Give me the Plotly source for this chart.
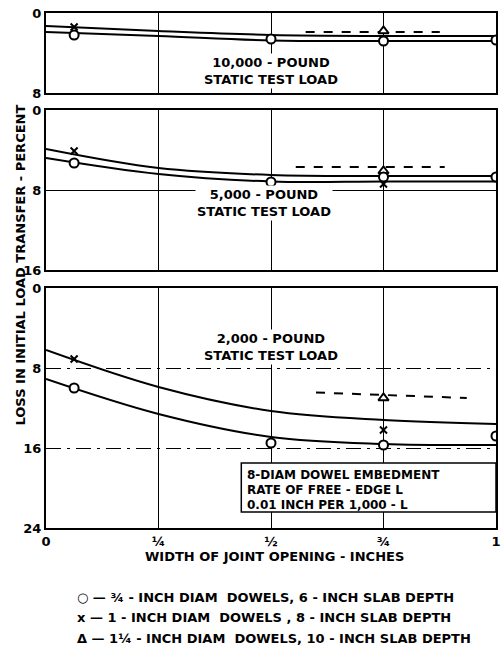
import plotly.graph_objects as go

# ---------------- data ----------------
curve_x = [0, 0.25, 0.5, 0.75, 1.0]

# 10,000-pound panel
p1_upper = [1.3, 1.8, 2.2, 2.3, 2.3]
p1_lower = [1.9, 2.3, 2.75, 2.8, 2.8]
p1_circ_x = [1/16, 1/2, 3/4, 1.0]
p1_circ_y = [2.2, 2.6, 2.8, 2.7]
p1_x_x = [1/16]
p1_x_y = [1.4]
p1_tri_x = [3/4]
p1_tri_y = [1.8]
p1_dash_x = [0.577, 0.875]
p1_dash_y = [1.9, 1.9]

# 5,000-pound panel
p2_upper = [3.9, 5.8, 6.5, 6.6, 6.6]
p2_lower = [4.8, 6.4, 7.15, 7.15, 7.15]
p2_circ_x = [1/16, 1/2, 3/4, 1.0]
p2_circ_y = [5.3, 7.2, 6.7, 6.7]
p2_x_x = [1/16, 3/4]
p2_x_y = [4.1, 7.4]
p2_tri_x = [3/4]
p2_tri_y = [6.1]
p2_dash_x = [0.555, 0.886]
p2_dash_y = [5.7, 5.7]

# 2,000-pound panel
p3_upper = [6.2, 9.9, 12.3, 13.2, 13.6]
p3_lower = [9.1, 12.6, 14.9, 15.6, 15.7]
p3_circ_x = [1/16, 1/2, 3/4, 1.0]
p3_circ_y = [10.0, 15.5, 15.7, 14.8]
p3_x_x = [1/16, 3/4]
p3_x_y = [7.1, 14.2]
p3_tri_x = [3/4]
p3_tri_y = [11.0]
p3_dash_x = [0.6, 0.935]
p3_dash_y = [10.45, 11.0]

x_tickvals = [0, 0.25, 0.5, 0.75, 1.0]
x_ticktext = ["0", "¼", "½", "¾", "1"]

panel_titles = ["10,000 - POUND<br>STATIC TEST LOAD",
                "5,000 - POUND<br>STATIC TEST LOAD",
                "2,000 - POUND<br>STATIC TEST LOAD"]
legend_lines = ["○ — ¾ - INCH DIAM  DOWELS, 6 - INCH SLAB DEPTH",
                "x — 1 - INCH DIAM  DOWELS , 8 - INCH SLAB DEPTH",
                "Δ — 1¼ - INCH DIAM  DOWELS, 10 - INCH SLAB DEPTH"]
box_lines = ["8-DIAM DOWEL EMBEDMENT",
             "RATE OF FREE - EDGE L",
             "0.01 INCH PER 1,000 - L"]

# ---------------- figure ----------------
FONT = "DejaVu Sans"
fig = go.Figure()

panels = [
    (p1_upper, p1_lower, p1_circ_x, p1_circ_y, p1_x_x, p1_x_y, p1_tri_x, p1_tri_y, p1_dash_x, p1_dash_y),
    (p2_upper, p2_lower, p2_circ_x, p2_circ_y, p2_x_x, p2_x_y, p2_tri_x, p2_tri_y, p2_dash_x, p2_dash_y),
    (p3_upper, p3_lower, p3_circ_x, p3_circ_y, p3_x_x, p3_x_y, p3_tri_x, p3_tri_y, p3_dash_x, p3_dash_y),
]

for i, (up, lo, cx, cy, xx, xy, tx, ty, dx, dy) in enumerate(panels):
    xa = "x" if i == 0 else f"x{i+1}"
    ya = "y" if i == 0 else f"y{i+1}"
    for ys in (up, lo):
        fig.add_trace(go.Scatter(x=curve_x, y=ys, mode="lines", xaxis=xa, yaxis=ya,
                                 line=dict(color="black", width=2, shape="spline", smoothing=1.0),
                                 showlegend=False, hoverinfo="skip"))
    fig.add_trace(go.Scatter(x=dx, y=dy, mode="lines", xaxis=xa, yaxis=ya,
                             line=dict(color="black", width=2, dash="dash"),
                             showlegend=False))
    fig.add_trace(go.Scatter(x=xx, y=xy, mode="markers", xaxis=xa, yaxis=ya,
                             marker=dict(symbol="x-thin", size=7, line=dict(color="black", width=2)),
                             showlegend=False))
    fig.add_trace(go.Scatter(x=tx, y=ty, mode="markers", xaxis=xa, yaxis=ya,
                             marker=dict(symbol="triangle-up", size=9, color="white",
                                         line=dict(color="black", width=2)),
                             showlegend=False))
    fig.add_trace(go.Scatter(x=cx, y=cy, mode="markers", xaxis=xa, yaxis=ya,
                             marker=dict(symbol="circle", size=9, color="white",
                                         line=dict(color="black", width=2)),
                             showlegend=False))

axis_common = dict(showline=True, mirror=True, linecolor="black", linewidth=2,
                   zeroline=False, ticks="", gridcolor="black", gridwidth=1,
                   automargin=False)
tickfont = dict(family=FONT, size=13, color="black", weight="bold")

L, R = 46, 5
W = 501 - L - R
H = 515.0
dom1 = [(528 - 93) / H, 1.0]
dom2 = [(528 - 270) / H, (528 - 110) / H]
dom3 = [0.0, (528 - 288) / H]

fig.update_layout(
    width=501, height=646,
    margin=dict(l=L, r=R, t=13, b=118),
    paper_bgcolor="white", plot_bgcolor="white",
    xaxis=dict(range=[0, 1], domain=[0, 1], anchor="y", tickvals=x_tickvals,
               showticklabels=False, showgrid=True, **axis_common),
    xaxis2=dict(range=[0, 1], domain=[0, 1], anchor="y2", tickvals=x_tickvals,
                showticklabels=False, showgrid=True, **axis_common),
    xaxis3=dict(range=[0, 1], domain=[0, 1], anchor="y3", tickvals=x_tickvals,
                ticktext=x_ticktext, showticklabels=True, showgrid=True,
                ticklabeloverflow="allow",
                tickfont=dict(family=FONT, size=13, color="black", weight="bold"), **axis_common),
    yaxis=dict(range=[8, 0], domain=dom1, anchor="x", tickvals=[0, 8],
               ticktext=["0", "8"], showgrid=False, tickfont=tickfont, **axis_common),
    yaxis2=dict(range=[16, 0], domain=dom2, anchor="x2", tickvals=[0, 8, 16],
                ticktext=["0", "8", "16"], showgrid=True, tickfont=tickfont, **axis_common),
    yaxis3=dict(range=[24, 0], domain=dom3, anchor="x3", tickvals=[0, 8, 16, 24],
                ticktext=["0", "8", "16", "24"], showgrid=True, griddash="longdashdot",
                tickfont=tickfont, **axis_common),
)

annot_font = dict(family=FONT, size=13, color="black", weight="bold")
title_pos = [(0.5, 5.8, "x", "y"), (0.485, 9.3, "x2", "y2"), (0.5, 5.9, "x3", "y3")]
for (tx_, ty_, xr, yr), txt in zip(title_pos, panel_titles):
    fig.add_annotation(x=tx_, y=ty_, xref=xr, yref=yr, text=txt, showarrow=False,
                       font=annot_font, bgcolor="white", align="center")

# note box in bottom panel
fig.add_shape(type="rect", xref="x3", yref="y3", x0=0.434, x1=1.0, y0=17.5, y1=22.4,
              line=dict(color="black", width=1.5), fillcolor="white", layer="above")
for k, line in enumerate(box_lines):
    fig.add_annotation(x=0.443, y=18.7 + 1.5 * k, xref="x3", yref="y3", text=line,
                       showarrow=False, xanchor="left", yanchor="middle",
                       font=dict(family=FONT, size=12, color="black", weight="bold"))

# axis titles
fig.add_annotation(x=(274 - L) / W, y=(528 - 566) / H, xref="paper", yref="paper",
                   text="WIDTH OF JOINT OPENING - INCHES", showarrow=False,
                   font=dict(family=FONT, size=13, color="black", weight="bold"))
fig.add_annotation(x=(10 - L) / W, y=(528 - 265) / H, xref="paper", yref="paper",
                   text="LOSS IN INITIAL LOAD TRANSFER - PERCENT", showarrow=False,
                   textangle=-90,
                   font=dict(family=FONT, size=13, color="black", weight="bold"))

# key
for k, line in enumerate(legend_lines):
    py = 597 + 20.5 * k
    fig.add_annotation(x=(75 - L) / W, y=(528 - py) / H, xref="paper", yref="paper",
                       text=line, showarrow=False, xanchor="left", yanchor="middle",
                       font=dict(family=FONT, size=13, color="black", weight="bold"))

fig.write_html("out.html", config={"displayModeBar": False},
               post_script="document.body.style.margin='0px';document.body.style.padding='0px';")
